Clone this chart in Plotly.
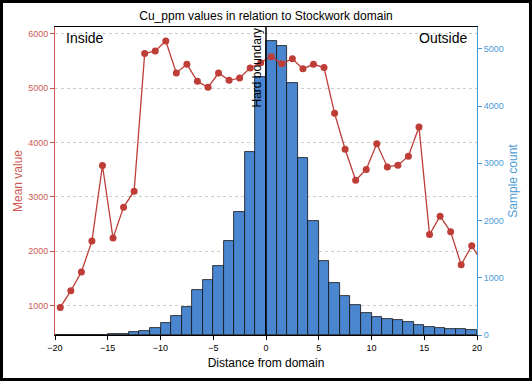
import plotly.graph_objects as go

# ---- data ----
bin_centers = [x + 0.5 for x in range(-20, 20)]
sample_counts = [2, 3, 4, 5, 7, 10, 22, 45, 75, 120,
                 215, 340, 495, 780, 960, 1205, 1650, 2150, 3190, 4505,
                 5135, 5040, 4400, 3085, 1990, 1300, 915, 686, 524, 380,
                 310, 285, 255, 222, 175, 135, 122, 110, 99, 87]
mean_x = [x + 0.5 for x in range(-20, 21)]
mean_values = [970, 1275, 1619, 2188, 3577, 2243, 2812, 3105, 5632, 5681,
               5865, 5276, 5436, 5123, 5012, 5276, 5141, 5184, 5368, 5466,
               5576, 5448, 5539, 5352, 5436, 5376, 4535, 3875, 3307, 3504,
               3976, 3551, 3582, 3747, 4285, 2307, 2645, 2358, 1754, 2103,
               1790]
x_ticks = [-20, -15, -10, -5, 0, 5, 10, 15, 20]
left_ticks = [1000, 2000, 3000, 4000, 5000, 6000]
right_ticks = [0, 1000, 2000, 3000, 4000, 5000]

RED_AX = "#cc5a55"
RED_LINE = "#bf3d37"
BLUE_AX = "#4d9bd6"
BAR = "#4a86d0"
FONT = "Liberation Sans, Arial, sans-serif"

fig = go.Figure()
fig.add_trace(go.Bar(
    x=bin_centers, y=sample_counts, width=1.0,
    marker=dict(color=BAR, line=dict(color="#111111", width=0.8)),
    yaxis="y", showlegend=False))
fig.add_trace(go.Scatter(
    x=mean_x, y=mean_values, mode="lines+markers",
    line=dict(color=RED_LINE, width=1.3),
    marker=dict(color=RED_LINE, size=7),
    yaxis="y2", showlegend=False))

W, H = 532, 381
L, R, T, B = 55, 55, 27, 46
pw, ph = W - L - R, H - T - B

fig.update_layout(
    width=W, height=H,
    margin=dict(l=L, r=R, t=T, b=B, pad=0, autoexpand=False),
    paper_bgcolor="white", plot_bgcolor="white",
    font=dict(family=FONT, size=9, color="black"),
    bargap=0,
    title=dict(text="Cu_ppm values in relation to Stockwork domain",
               x=0.5, xref="paper", y=1 - 16 / H, yanchor="middle",
               font=dict(size=12, color="black")),
    xaxis=dict(range=[-20, 20], tickvals=x_ticks, showgrid=False, zeroline=False,
               showline=True, mirror=True, linecolor="black", linewidth=1,
               ticks="outside", ticklen=4, tickcolor="black", automargin=False,
               tickfont=dict(size=9, color="black"),
               title=dict(text="Distance from domain", font=dict(size=12), standoff=6)),
    yaxis=dict(side="right", range=[0, 5380], tickvals=right_ticks,
               showgrid=False, zeroline=False, automargin=False,
               showline=True, linecolor=BLUE_AX, linewidth=1,
               ticks="outside", ticklen=4, tickcolor=BLUE_AX,
               tickfont=dict(size=9, color=BLUE_AX),
               title=dict(text="Sample count", font=dict(size=12, color=BLUE_AX), standoff=5)),
    yaxis2=dict(overlaying="y", side="left", range=[463, 6121], tickvals=left_ticks,
                showgrid=True, gridcolor="#cccccc", griddash="dot", gridwidth=1,
                zeroline=False, automargin=False,
                showline=True, linecolor=RED_AX, linewidth=1,
                ticks="outside", ticklen=4, tickcolor=RED_AX,
                tickfont=dict(size=9, color=RED_AX),
                title=dict(text="Mean value", font=dict(size=12, color=RED_AX), standoff=2)),
)

# vertical hard boundary line at x=0
fig.add_shape(type="line", xref="x", yref="paper", x0=0, x1=0, y0=0, y1=1,
              line=dict(color="black", width=1.5), layer="above")

fig.add_annotation(text="Hard boundary", xref="x", yref="paper", x=0, y=1,
                   xanchor="right", yanchor="top", textangle=-90, showarrow=False,
                   font=dict(size=12, color="black"), xshift=-1)
fig.add_annotation(text="Inside", xref="paper", yref="paper", x=9 / pw, y=1,
                   xanchor="left", yanchor="top", showarrow=False,
                   font=dict(size=14, color="black"), yshift=-1)
fig.add_annotation(text="Outside", xref="paper", yref="paper", x=1 - 8 / pw, y=1,
                   xanchor="right", yanchor="top", showarrow=False,
                   font=dict(size=14, color="black"), yshift=-1)

# outer black frame around the whole image
fig.add_shape(type="rect", xref="paper", yref="paper",
              x0=(-L + 1.5) / pw, x1=(W - L - 1.5) / pw,
              y0=-(B - 1.5) / ph, y1=1 + (T - 1.5) / ph,
              line=dict(color="black", width=3), fillcolor="rgba(0,0,0,0)",
              layer="above")

fig.write_html("out.html", config={"displayModeBar": False},
               post_script="document.body.style.margin='0';document.body.style.overflow='hidden';")
